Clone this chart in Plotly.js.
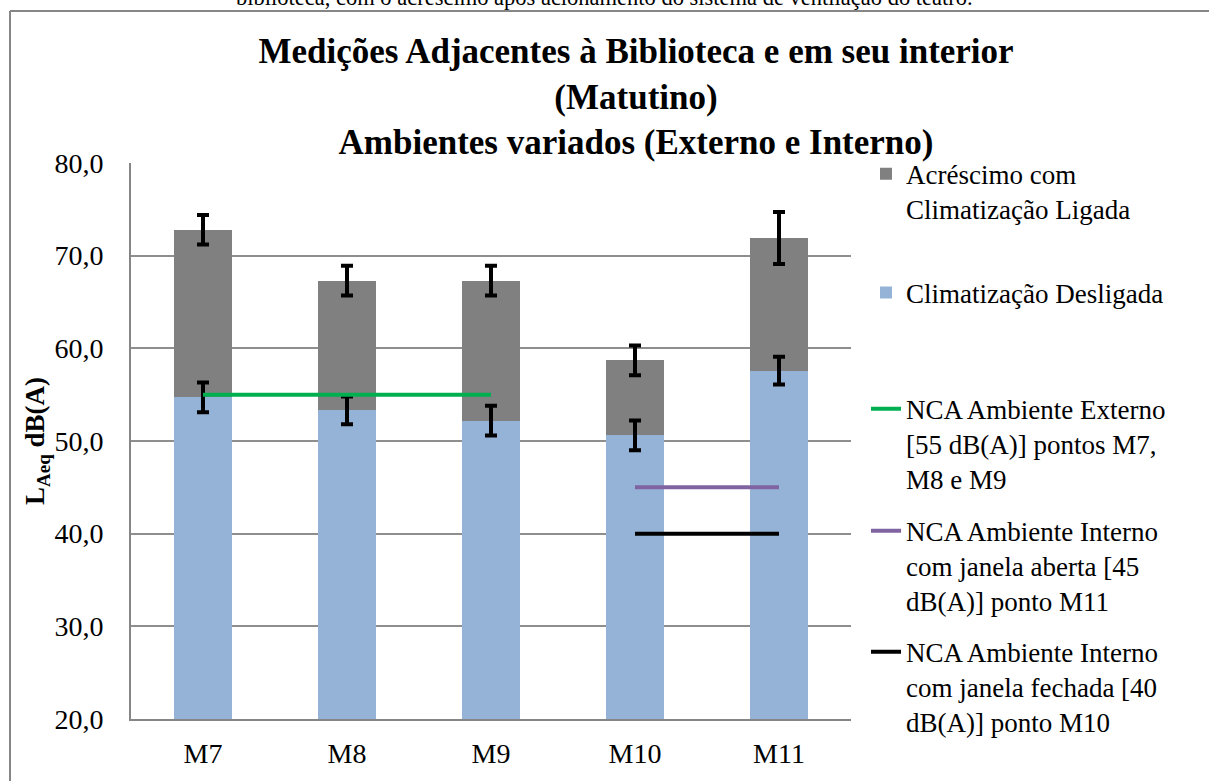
<!DOCTYPE html>
<html>
<head>
<meta charset="utf-8">
<script src="https://cdn.plot.ly/plotly-3.0.1.min.js"></script>
<style>html,body{margin:0;padding:0;background:#fff;overflow:hidden}#chart{width:1209px;height:781px}</style>
</head>
<body>
<div id="chart"></div>
<script>
// ---- data ----
const categories = ['M7', 'M8', 'M9', 'M10', 'M11'];
const desligada = [54.7, 53.3, 52.2, 50.6, 57.6];
const acrescimo = [18.1, 14.0, 15.1, 8.1, 14.3];
const errDesligada = [1.6, 1.5, 1.6, 1.6, 1.5];
const errAcrescimo = [1.6, 1.6, 1.6, 1.6, 2.8];
const ncaExternoX = ['M7', 'M8', 'M9'];
const ncaExternoY = [55, 55, 55];
const ncaAbertaX = ['M10', 'M11'];
const ncaAbertaY = [45, 45];
const ncaFechadaX = ['M10', 'M11'];
const ncaFechadaY = [40, 40];
const yTicks = [20, 30, 40, 50, 60, 70, 80];

const W = 1209, H = 781;
const M = {l: 131, r: 358, t: 163, b: 62};
const plotH = H - M.t - M.b, plotW = W - M.l - M.r;
const py = p => (H - M.b - p) / plotH;   // pixel y -> paper y
const px = p => (p - M.l) / plotW;       // pixel x -> paper x

const serif = 'Liberation Serif';
const errStyle = {type: 'data', visible: true, color: '#000', thickness: 4, width: 6};

// stacked tops derived from the data, used only to place the error bars above both bar layers
const topDesligada = desligada.slice();
const topTotal = desligada.map((v, i) => v + acrescimo[i]);

const traces = [
  {type: 'bar', name: 'Climatização Desligada', x: categories, y: desligada,
   marker: {color: '#95B3D7'}, legend: 'legend2', hoverinfo: 'x+y'},
  {type: 'bar', name: '&nbsp;<br>Acréscimo com<br>Climatização Ligada', x: categories, y: acrescimo,
   marker: {color: '#808080'}, legend: 'legend', hoverinfo: 'x+y'},
  {type: 'scatter', mode: 'markers', x: categories, y: topDesligada, showlegend: false, hoverinfo: 'skip',
   marker: {size: 1, opacity: 0}, error_y: Object.assign({array: errDesligada}, errStyle)},
  {type: 'scatter', mode: 'markers', x: categories, y: topTotal, showlegend: false, hoverinfo: 'skip',
   marker: {size: 1, opacity: 0}, error_y: Object.assign({array: errAcrescimo}, errStyle)},
  {type: 'scatter', mode: 'lines', name: '&nbsp;<br>&nbsp;<br>NCA Ambiente Externo<br>[55 dB(A)] pontos M7,<br>M8 e M9',
   x: ncaExternoX, y: ncaExternoY, line: {color: '#00B050', width: 4}, legend: 'legend3'},
  {type: 'scatter', mode: 'lines', name: '&nbsp;<br>&nbsp;<br>NCA Ambiente Interno<br>com janela aberta [45<br>dB(A)] ponto M11',
   x: ncaAbertaX, y: ncaAbertaY, line: {color: '#8064A2', width: 4}, legend: 'legend4'},
  {type: 'scatter', mode: 'lines', name: '&nbsp;<br>&nbsp;<br>NCA Ambiente Interno<br>com janela fechada [40<br>dB(A)] ponto M10',
   x: ncaFechadaX, y: ncaFechadaY, line: {color: '#000000', width: 4}, legend: 'legend5'}
];

const legFont = {family: serif, size: 27, color: '#000'};
function leg(pyv) {
  return {x: px(866), xanchor: 'left', y: py(pyv), yanchor: 'middle', xref: 'paper', yref: 'paper',
          bgcolor: 'rgba(0,0,0,0)', borderwidth: 0, font: legFont, itemclick: false};
}

const layout = {
  width: W, height: H, margin: M,
  paper_bgcolor: '#fff', plot_bgcolor: '#fff',
  separators: ', ',
  barmode: 'stack', bargap: 0.6,
  font: {family: serif, color: '#000'},
  title: {
    text: '<b>Medições Adjacentes à Biblioteca e em seu interior<br>(Matutino)<br>Ambientes variados (Externo e Interno)</b>',
    font: {family: serif, size: 35, color: '#000'},
    x: 636 / W, xanchor: 'center', xref: 'container',
    y: 1 - 63 / H, yanchor: 'middle', yref: 'container'
  },
  xaxis: {
    type: 'category', showline: true, linecolor: '#868686', linewidth: 2,
    showgrid: false, ticks: '', ticklabelstandoff: 8,
    tickfont: {family: serif, size: 28, color: '#000'},
    fixedrange: true
  },
  yaxis: {
    range: [20, 80], tickvals: yTicks, tickformat: '.1f',
    showline: true, linecolor: '#868686', linewidth: 2,
    showgrid: true, gridcolor: '#8e8e8e', gridwidth: 1.5, zeroline: false,
    ticks: '', ticklabelstandoff: 20,
    tickfont: {family: serif, size: 28, color: '#000'},
    title: {text: '<b>L<sub>Aeq</sub> dB(A)</b>', font: {family: serif, size: 27, color: '#000'}, standoff: 2},
    fixedrange: true
  },
  showlegend: true,
  legend: leg(174),
  legend2: leg(293),
  legend3: leg(409),
  legend4: leg(531),
  legend5: leg(652),
  annotations: [{
    text: 'biblioteca, com o acréscimo após acionamento do sistema de ventilação do teatro.',
    xref: 'paper', yref: 'paper', x: px(604), y: py(-3), xanchor: 'center', yanchor: 'middle',
    showarrow: false, font: {family: serif, size: 22.5, color: '#000'}
  }],
  shapes: [
    {type: 'line', xref: 'paper', yref: 'paper', x0: px(10), x1: px(W + 5), y0: py(11), y1: py(11),
     line: {color: '#868686', width: 2}},
    {type: 'line', xref: 'paper', yref: 'paper', x0: px(10), x1: px(10), y0: py(11), y1: py(H + 5),
     line: {color: '#868686', width: 2}}
  ]
};

Plotly.newPlot('chart', traces, layout, {displayModeBar: false});
</script>
</body>
</html>
